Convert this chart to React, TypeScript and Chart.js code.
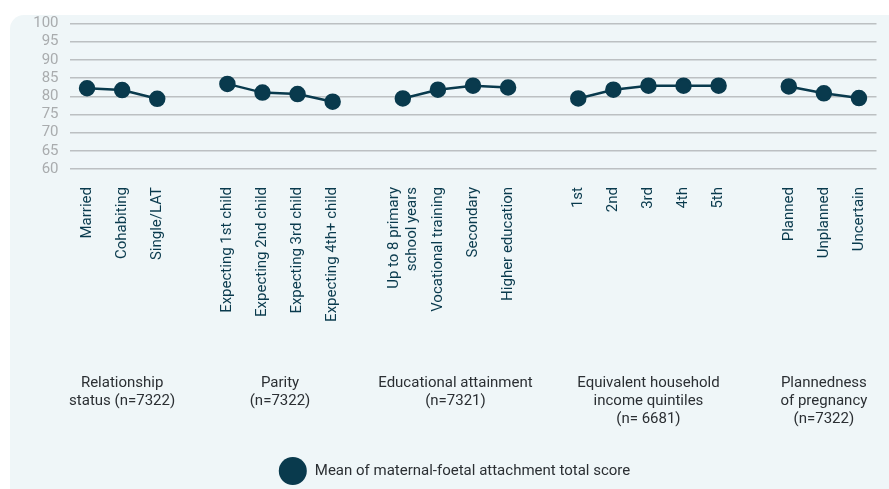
import React, { useEffect, useRef } from "react";
import { Chart, registerables } from "chart.js";

Chart.register(...registerables);

const categories: (string | string[])[] = [
  "Married", "Cohabiting", "Single/LAT", "",
  "Expecting 1st child", "Expecting 2nd child", "Expecting 3rd child", "Expecting 4th+ child", "",
  ["Up to 8 primary", "school years"], "Vocational training", "Secondary", "Higher education", "",
  "1st", "2nd", "3rd", "4th", "5th", "",
  "Planned", "Unplanned", "Uncertain",
];

const scores: (number | null)[] = [
  82.2, 81.7, 79.3, null,
  83.4, 81.0, 80.6, 78.5, null,
  79.4, 81.8, 82.9, 82.4, null,
  79.4, 81.8, 82.9, 82.9, 82.9, null,
  82.7, 80.8, 79.5,
];

const groupLabels: string[][] = [
  ["Relationship", "status (n=7322)"],
  ["Parity", "(n=7322)"],
  ["Educational attainment", "(n=7321)"],
  ["Equivalent household", "income quintiles", "(n= 6681)"],
  ["Plannedness", "of pregnancy", "(n=7322)"],
];
const groupRanges: [number, number][] = [[0, 2], [4, 7], [9, 12], [14, 18], [20, 22]];

const yTicks = { min: 60, max: 100, step: 5 };
const seriesLabel = "Mean of maternal-foetal attachment total score";

const COLOR = "#093a4d";
const FONT = "Roboto, 'Noto Sans', sans-serif";

const centerMultiLinePlugin = {
  id: "centerMultiLine",
  beforeDraw(chart: any) {
    const x = chart.scales.x;
    const items = x.getLabelItems(chart.chartArea);
    items.forEach((it: any) => {
      if (Array.isArray(it.label) && it.label.length > 1) {
        const lh = it.font && it.font.lineHeight ? it.font.lineHeight : 18;
        it.options.translation[0] -= ((it.label.length - 1) * lh) / 2;
      }
    });
  },
};

const groupPlugin = {
  id: "groupLabels",
  afterDraw(chart: any) {
    const ctx = chart.ctx;
    const x = chart.scales.x;
    const area = chart.chartArea;
    ctx.save();
    ctx.font = `15px ${FONT}`;
    ctx.fillStyle = "#2b2f33";
    ctx.textAlign = "center";
    ctx.textBaseline = "middle";
    groupLabels.forEach((lines, i) => {
      const [a, b] = groupRanges[i];
      const cx = (x.getPixelForValue(a) + x.getPixelForValue(b)) / 2;
      lines.forEach((ln, j) => {
        ctx.fillText(ln, cx, area.bottom + 214 + j * 18);
      });
    });
    // legend
    const ds = chart.data.datasets[0];
    const tw = ctx.measureText(ds.label).width;
    const r = 14;
    const total = r * 2 + 8 + tw;
    const startX = chart.width / 2 + 10 - total / 2;
    const cy = chart.height - 18;
    ctx.beginPath();
    ctx.arc(startX + r, cy, r, 0, Math.PI * 2);
    ctx.fillStyle = ds.backgroundColor;
    ctx.fill();
    ctx.fillStyle = "#2b2f33";
    ctx.textAlign = "left";
    ctx.fillText(ds.label, startX + r * 2 + 8, cy);
    ctx.restore();
  },
};

export default function App() {
  const ref = useRef<HTMLCanvasElement | null>(null);
  useEffect(() => {
    document.body.style.margin = "0";
    const chart = new Chart(ref.current!, {
      type: "line",
      data: {
        labels: categories,
        datasets: [
          {
            label: seriesLabel,
            data: scores,
            borderColor: COLOR,
            backgroundColor: COLOR,
            borderWidth: 2.5,
            pointRadius: 7,
            pointHoverRadius: 7,
            pointBackgroundColor: COLOR,
            pointBorderColor: COLOR,
            spanGaps: false,
            tension: 0,
          },
        ],
      },
      options: {
        animation: false,
        responsive: false,
        maintainAspectRatio: false,
        layout: { padding: { top: 23.5, right: 12.5, bottom: 0, left: 0 } },
        plugins: { legend: { display: false }, tooltip: { enabled: false } },
        scales: {
          x: {
            offset: true,
            grid: { display: false, drawTicks: false },
            border: { display: false },
            ticks: {
              autoSkip: false,
              minRotation: 90,
              maxRotation: 90,
              padding: 18,
              color: COLOR,
              font: { family: FONT, size: 15 },
            },
            afterFit: (s: any) => {
              s.height = 320;
              s.paddingLeft = 0;
              s.paddingRight = 0;
            },
          },
          y: {
            min: yTicks.min,
            max: yTicks.max,
            grid: { color: "#bcc0c2", lineWidth: 1.5, drawTicks: false },
            border: { display: false },
            ticks: {
              autoSkip: false,
              stepSize: yTicks.step,
              padding: 11,
              color: "#a9acae",
              font: { family: FONT, size: 15 },
            },
            afterFit: (s: any) => {
              s.width = 69.5;
            },
          },
        },
      },
      plugins: [centerMultiLinePlugin, groupPlugin],
    });
    return () => chart.destroy();
  }, []);
  return (
    <div style={{ position: "relative", width: 889, height: 489, overflow: "hidden" }}>
      <div
        style={{
          position: "absolute",
          left: 10,
          top: 15,
          width: 879,
          height: 474,
          background: "#eff6f8",
          borderTopLeftRadius: 14,
        }}
      />
      <canvas ref={ref} width={889} height={489} style={{ position: "absolute", left: 0, top: 0 }} />
    </div>
  );
}
